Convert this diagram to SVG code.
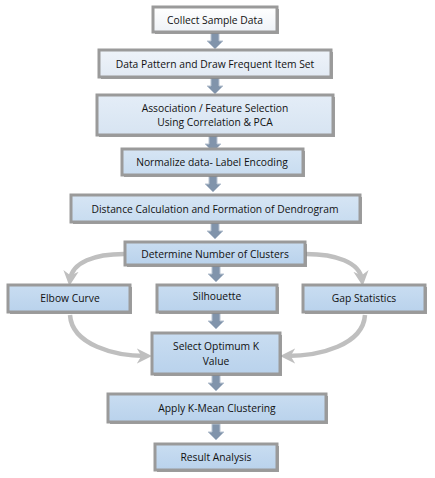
<svg xmlns="http://www.w3.org/2000/svg" width="435" height="478" viewBox="0 0 435 478">
<defs>
<linearGradient id="g0" x1="0" y1="0" x2="0" y2="1"><stop offset="0" stop-color="#ffffff"/><stop offset="1" stop-color="#eef2f7"/></linearGradient>
<linearGradient id="g1" x1="0" y1="0" x2="0" y2="1"><stop offset="0" stop-color="#eef3f9"/><stop offset="1" stop-color="#e2eaf4"/></linearGradient>
<linearGradient id="g2" x1="0" y1="0" x2="0" y2="1"><stop offset="0" stop-color="#e4edf7"/><stop offset="1" stop-color="#d7e4f2"/></linearGradient>
<linearGradient id="g3" x1="0" y1="0" x2="0" y2="1"><stop offset="0" stop-color="#d6e5f4"/><stop offset="1" stop-color="#c8dcf0"/></linearGradient>
<linearGradient id="g4" x1="0" y1="0" x2="0" y2="1"><stop offset="0" stop-color="#c9ddf1"/><stop offset="1" stop-color="#b9d2ec"/></linearGradient>
<marker id="ah" viewBox="0 0 10 10" refX="6" refY="5" markerWidth="3.4" markerHeight="3.4" orient="auto" markerUnits="strokeWidth">
<path d="M0,0 L10,5 L0,10 L3,5 z" fill="#bfbfbf"/>
</marker>
<path id="va" d="M-4,0 L4,0 L4,8 L8,8 L0,16 L-8,8 L-4,8 z"/>
</defs>
<style>
.sh{fill:#5e5e5e;opacity:0.6}
.bx{stroke:#9a9a9a;stroke-width:3}
.t{font-family:"Open Sans","Liberation Sans",sans-serif;font-size:10.3px;fill:#111111;text-anchor:middle}
.cv{fill:none;stroke:#bfbfbf;stroke-width:4.5;marker-end:url(#ah)}
.va{fill:#8194ab;stroke:#b8c3d1;stroke-width:1}
</style>
<g id="connectors">
<use href="#va" class="va" x="215" y="33"/>
<use href="#va" class="va" x="215" y="78"/>
<use href="#va" class="va" x="213" y="136"/>
<use href="#va" class="va" x="213" y="176"/>
<use href="#va" class="va" x="215" y="223"/>
<use href="#va" class="va" x="216" y="266"/>
<use href="#va" class="va" x="216" y="313"/>
<use href="#va" class="va" x="216" y="375"/>
<use href="#va" class="va" x="216" y="424"/>
<path class="cv" d="M124,254 C95,254 72,262 70,280"/>
<path class="cv" d="M306,254 C335,254 360,262 362,280"/>
<path class="cv" d="M70,315 C72,345 115,356 146,356"/>
<path class="cv" d="M365,315 C363,345 320,356 286,356"/>
</g>
<g id="n1"><rect class="sh" x="155" y="9" width="124" height="25"/><rect class="bx" x="153" y="7" width="124" height="25" fill="url(#g0)"/><text class="t" x="215" y="23.5">Collect Sample Data</text></g>
<g id="n2"><rect class="sh" x="101" y="52" width="232" height="27"/><rect class="bx" x="99" y="50" width="232" height="27" fill="url(#g1)"/><text class="t" x="215" y="67.5">Data Pattern and Draw Frequent Item Set</text></g>
<g id="n3"><rect class="sh" x="99" y="97" width="236" height="40"/><rect class="bx" x="97" y="95" width="236" height="40" fill="url(#g2)"/><text class="t" x="215" y="112">Association / Feature Selection</text><text class="t" x="215" y="126">Using Correlation &amp; PCA</text></g>
<g id="n4"><rect class="sh" x="124" y="151" width="181" height="26"/><rect class="bx" x="122" y="149" width="181" height="26" fill="url(#g3)"/><text class="t" x="212" y="166">Normalize data- Label Encoding</text></g>
<g id="n5"><rect class="sh" x="73" y="197" width="289" height="27"/><rect class="bx" x="71" y="195" width="289" height="27" fill="url(#g3)"/><text class="t" x="215" y="212.5">Distance Calculation and Formation of Dendrogram</text></g>
<g id="n6"><rect class="sh" x="127" y="244" width="180" height="23"/><rect class="bx" x="125" y="242" width="180" height="23" fill="url(#g4)"/><text class="t" x="215" y="257.5">Determine Number of Clusters</text></g>
<g id="n7"><rect class="sh" x="10" y="287" width="122" height="27"/><rect class="bx" x="8" y="285" width="122" height="27" fill="url(#g4)"/><text class="t" x="70" y="301.5">Elbow Curve</text></g>
<g id="n8"><rect class="sh" x="159" y="287" width="120" height="27"/><rect class="bx" x="157" y="285" width="120" height="27" fill="url(#g4)"/><text class="t" x="217" y="299.5">Silhouette</text></g>
<g id="n9"><rect class="sh" x="305" y="287" width="122" height="27"/><rect class="bx" x="303" y="285" width="122" height="27" fill="url(#g4)"/><text class="t" x="364" y="301.5">Gap Statistics</text></g>
<g id="n10"><rect class="sh" x="154" y="335" width="128" height="41"/><rect class="bx" x="152" y="333" width="128" height="41" fill="url(#g4)"/><text class="t" x="216" y="350">Select Optimum K</text><text class="t" x="216" y="365">Value</text></g>
<g id="n11"><rect class="sh" x="110" y="396" width="218" height="28"/><rect class="bx" x="108" y="394" width="218" height="28" fill="url(#g4)"/><text class="t" x="217" y="411.5">Apply K-Mean Clustering</text></g>
<g id="n12"><rect class="sh" x="157" y="446" width="122" height="26"/><rect class="bx" x="155" y="444" width="122" height="26" fill="url(#g4)"/><text class="t" x="216" y="460.5">Result Analysis</text></g>
</svg>
